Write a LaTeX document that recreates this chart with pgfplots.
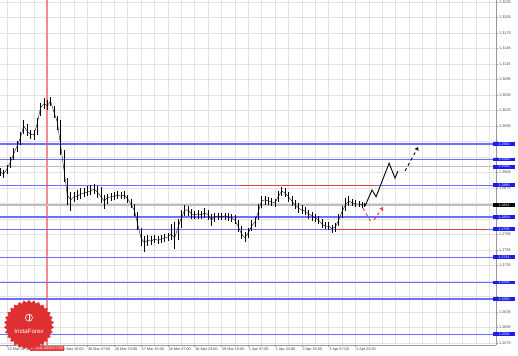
\documentclass[border=0pt]{standalone}
\usepackage{fontspec}
\setmainfont{Liberation Sans}
\usepackage{pgfplots}
\pgfplotsset{compat=1.18}
\usepackage{pgfplotstable}
\usetikzlibrary{shapes.geometric, arrows.meta}

\definecolor{boxblue}{RGB}{30,30,235}
\definecolor{lineblue}{RGB}{110,110,250}
\definecolor{redline}{RGB}{232,62,62}
\definecolor{crossred}{RGB}{244,140,140}
\definecolor{grayline}{RGB}{190,190,190}
\definecolor{gridc}{RGB}{226,226,226}
\definecolor{logored}{RGB}{222,48,48}

\pgfplotstableread{
i h l c
-4 1.2914 1.2898 1.2906
-2 1.2910 1.2894 1.2902
0 1.2919 1.2902 1.2912
2 1.2935 1.2914 1.2925
4 1.2952 1.2929 1.2941
6 1.2966 1.2945 1.2956
8 1.2983 1.2958 1.2972
10 1.3007 1.2979 1.2995
12 1.2999 1.2976 1.2985
14 1.2987 1.2970 1.2979
16 1.2987 1.2968 1.2978
18 1.3010 1.2978 1.2999
20 1.3039 1.3014 1.3030
22 1.3049 1.3028 1.3038
24 1.3045 1.3026 1.3034
26 1.3051 1.3034 1.3043
28 1.3034 1.3010 1.3022
30 1.3014 1.2987 1.3003
32 1.3007 1.2939 1.2958
34 1.2949 1.2887 1.2910
36 1.2894 1.2842 1.2861
38 1.2867 1.2830 1.2852
40 1.2867 1.2848 1.2858
42 1.2871 1.2852 1.2859
44 1.2875 1.2854 1.2863
46 1.2875 1.2858 1.2865
48 1.2879 1.2859 1.2867
50 1.2881 1.2861 1.2869
52 1.2883 1.2863 1.2873
54 1.2879 1.2856 1.2867
56 1.2877 1.2846 1.2858
58 1.2861 1.2834 1.2850
60 1.2863 1.2844 1.2856
62 1.2865 1.2850 1.2858
64 1.2867 1.2852 1.2859
66 1.2869 1.2854 1.2861
68 1.2867 1.2854 1.2859
70 1.2869 1.2854 1.2861
72 1.2861 1.2846 1.2854
74 1.2854 1.2836 1.2844
76 1.2844 1.2821 1.2832
78 1.2829 1.2794 1.2805
80 1.2798 1.2763 1.2778
82 1.2782 1.2751 1.2769
84 1.2784 1.2763 1.2774
86 1.2782 1.2765 1.2772
88 1.2784 1.2769 1.2776
90 1.2782 1.2767 1.2774
92 1.2784 1.2769 1.2776
94 1.2786 1.2770 1.2778
96 1.2788 1.2772 1.2780
98 1.2805 1.2774 1.2786
100 1.2809 1.2757 1.2778
102 1.2815 1.2774 1.2798
104 1.2832 1.2798 1.2817
106 1.2842 1.2821 1.2832
108 1.2840 1.2821 1.2832
110 1.2834 1.2815 1.2825
112 1.2830 1.2815 1.2823
114 1.2832 1.2815 1.2825
116 1.2830 1.2815 1.2823
118 1.2836 1.2817 1.2827
120 1.2832 1.2813 1.2823
122 1.2825 1.2801 1.2813
124 1.2827 1.2809 1.2819
126 1.2827 1.2813 1.2821
128 1.2827 1.2813 1.2819
130 1.2827 1.2813 1.2821
132 1.2827 1.2811 1.2819
134 1.2825 1.2809 1.2817
136 1.2823 1.2805 1.2813
138 1.2813 1.2790 1.2800
140 1.2801 1.2776 1.2786
142 1.2790 1.2770 1.2778
144 1.2798 1.2778 1.2788
146 1.2813 1.2792 1.2801
148 1.2819 1.2800 1.2809
150 1.2844 1.2813 1.2829
152 1.2859 1.2836 1.2850
154 1.2859 1.2842 1.2852
156 1.2858 1.2842 1.2850
158 1.2856 1.2840 1.2848
160 1.2854 1.2838 1.2846
162 1.2869 1.2848 1.2859
164 1.2877 1.2859 1.2869
166 1.2875 1.2858 1.2865
168 1.2867 1.2848 1.2858
170 1.2859 1.2840 1.2850
172 1.2852 1.2834 1.2842
174 1.2846 1.2827 1.2836
176 1.2842 1.2825 1.2832
178 1.2838 1.2823 1.2830
180 1.2832 1.2815 1.2825
182 1.2829 1.2811 1.2821
184 1.2825 1.2809 1.2817
186 1.2821 1.2805 1.2813
188 1.2815 1.2798 1.2805
190 1.2809 1.2796 1.2801
192 1.2809 1.2794 1.2801
194 1.2803 1.2788 1.2796
196 1.2807 1.2790 1.2800
198 1.2825 1.2801 1.2813
200 1.2840 1.2817 1.2829
202 1.2856 1.2830 1.2842
204 1.2859 1.2840 1.2850
206 1.2854 1.2840 1.2846
208 1.2852 1.2838 1.2844
210 1.2850 1.2838 1.2844
212 1.2848 1.2836 1.2842
213 1.2846 1.2838 1.2842
}\candles

\begin{document}
\begin{tikzpicture}[font=\fontsize{3.8}{4.4}\selectfont,
  lbl/.style={anchor=west, fill=boxblue, text=white, inner sep=0.6bp, xshift=-3bp, minimum width=22bp, font=\fontsize{3.6}{4}\selectfont}]
\useasboundingbox (0,0) rectangle (518bp,356bp);
\begin{axis}[
  at={(0bp,11bp)}, anchor=south west,
  scale only axis, width=496bp, height=345bp,
  xmin=-4.18, xmax=291.9, ymin=1.25711, ymax=1.32387,
  axis x line=bottom, axis y line=right,
  axis line style={-, draw=gray!80, line width=0.5pt},
  clip mode=individual,
  xtick={0,16,...,208},
  xticklabels={22 Mar 07:00, {}, 25 Mar 15:00, 26 Mar 07:00, 26 Mar 23:00, 27 Mar 15:00, 28 Mar 07:00, 28 Mar 23:00, 29 Mar 15:00, 1 Apr 07:00, 1 Apr 23:00, 2 Apr 15:00, 3 Apr 07:00, 3 Apr 23:00},
  minor xtick={8,40,56,72,88,104,120,136,152,168,184,200,216,232,248,264,280},
  extra x ticks={224,240,256,272,288}, extra x tick labels={}, extra x tick style={major tick length=0bp},
  ytick={1.2575,1.2605,1.2635,1.2665,1.2695,1.2725,1.2755,1.2785,1.2815,1.2845,1.2875,1.2905,1.2935,1.2965,1.2995,1.3025,1.3055,1.3085,1.3115,1.3145,1.3175,1.3205,1.3235},
  yticklabels={1.2575,1.2605,1.2635,{},{},1.2725,1.2755,1.2785,{},{},1.2875,1.2905,{},{},1.2995,1.3025,1.3055,1.3085,1.3115,1.3145,1.3175,1.3205,1.3235},
  yticklabel style={text=black!75, inner sep=1bp},
  xticklabel style={anchor=north west, inner sep=1bp, xshift=-0.5bp, text=black!75},
  grid=both, major grid style={gridc, line width=0.4pt}, minor grid style={gridc, line width=0.4pt},
  tick style={gray!80, line width=0.3pt}, major tick length=2bp, minor tick length=0bp, tick align=outside,
]
% vertical red crosshair
\addplot[crossred, line width=1.2pt] coordinates {(23.9,1.25711) (23.9,1.32387)};
% horizontal levels
\addplot[lineblue, line width=1.25pt] coordinates {(-4.18,1.2960) (291.9,1.2960)};
\addplot[lineblue, line width=1.25pt] coordinates {(-4.18,1.2930) (291.9,1.2930)};
\addplot[grayline, line width=1.25pt] coordinates {(-4.18,1.2916) (291.9,1.2916)};
\addplot[lineblue, line width=1.25pt] coordinates {(-4.18,1.2880) (291.9,1.2880)};
\addplot[grayline, line width=1.2pt] coordinates {(-4.18,1.2842) (291.9,1.2842)};
\addplot[lineblue, line width=1.25pt] coordinates {(-4.18,1.2819) (291.9,1.2819)};
\addplot[lineblue, line width=1.25pt] coordinates {(-4.18,1.2795) (291.9,1.2795)};
\addplot[lineblue, line width=1.25pt] coordinates {(-4.18,1.2741) (291.9,1.2741)};
\addplot[lineblue, line width=1.25pt] coordinates {(-4.18,1.2692) (291.9,1.2692)};
\addplot[lineblue, line width=1.25pt] coordinates {(-4.18,1.2660) (291.9,1.2660)};
\addplot[lineblue, line width=1.25pt] coordinates {(-4.18,1.2592) (291.9,1.2592)};
% red levels
\addplot[redline, line width=1.4pt] coordinates {(139,1.2880) (219.7,1.2880)};
\addplot[redline, line width=1.4pt] coordinates {(197,1.2795) (286.6,1.2795)};
% candles
\addplot[black, line width=0.35pt, mark=none,
  error bars/.cd, y dir=both, y explicit, error mark=none,
  error bar style={black, line width=0.55pt}]
  table[x=i, y=c, y error plus expr=\thisrow{h}-\thisrow{c}, y error minus expr=\thisrow{c}-\thisrow{l}] {\candles};
% projections
\addplot[black, line width=0.9pt] coordinates {(213.7,1.2840) (217.9,1.2871) (220.3,1.2858) (228.1,1.2923) (231.6,1.2894) (233.4,1.2908)};
\addplot[black, line width=0.9pt, dashed, -{Straight Barb[length=2.5bp,width=3.5bp]}] coordinates {(237.6,1.2908) (245.4,1.2954)};
\addplot[redline, line width=0.9pt, dashed] coordinates {(212.5,1.2836) (217.3,1.2809)};
\addplot[redline, line width=0.9pt, dashed, -{Straight Barb[length=2.5bp,width=3.5bp]}] coordinates {(219.1,1.2813) (224.5,1.2838)};
% price labels
\node[lbl] at (axis cs:291.9,1.2960) {1.2960};
\node[lbl] at (axis cs:291.9,1.2930) {1.2930};
\node[lbl] at (axis cs:291.9,1.2916) {1.2916};
\node[lbl] at (axis cs:291.9,1.2880) {1.2880};
\node[lbl, fill=black] at (axis cs:291.9,1.2842) {1.2842};
\node[lbl] at (axis cs:291.9,1.2819) {1.2819};
\node[lbl] at (axis cs:291.9,1.2795) {1.2795};
\node[lbl] at (axis cs:291.9,1.2741) {1.2741};
\node[lbl] at (axis cs:291.9,1.2692) {1.2692};
\node[lbl] at (axis cs:291.9,1.2660) {1.2660};
\node[lbl] at (axis cs:291.9,1.2592) {1.2592};
% crosshair date box
\node[anchor=north, fill=redline, text=white, inner sep=1.3bp, yshift=-0.5bp] at (axis cs:23.9,1.25711) {25 Mar 2019 07:00};
% logo
\node[star, star points=30, star point ratio=1.12, fill=logored, minimum size=50bp, inner sep=0pt] at (axis cs:13.1,1.2610) {};
\node[circle, draw=white, line width=0.6pt, minimum size=7bp, inner sep=0pt] at (axis cs:13.1,1.2624) {};
\draw[white, line width=0.8pt] (axis cs:13.1,1.26185) -- (axis cs:13.1,1.2630);
\node[text=white, font=\fontsize{6.2}{7}\selectfont] at (axis cs:13.1,1.2598) {InstaForex};
\end{axis}
\end{tikzpicture}
\end{document}
